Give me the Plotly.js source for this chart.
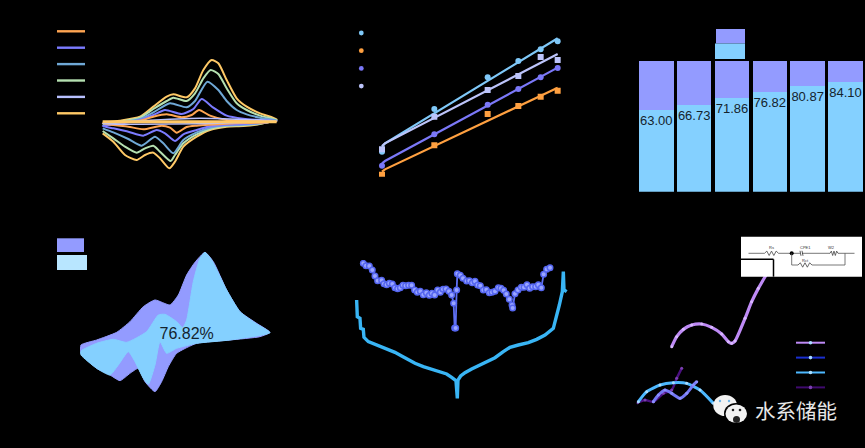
<!DOCTYPE html>
<html>
<head>
<meta charset="utf-8">
<script src="https://cdn.plot.ly/plotly-3.0.1.min.js"></script>
<style>html,body{margin:0;padding:0;background:#000}</style>
</head>
<body>
<div id="chart" style="width:865px;height:448px"></div>
<script>
'use strict'

const W = 865, H = 448;

// (a) cyclic voltammograms, one closed loop per scan rate
const cvOrangeX = [8,60,120,160,200,245,275,297,330,380,430,530,480,430,380,330,290,260,230,210,185,130,85,40,8];
const cvOrangeY = [-5,-2,3,15,22,13,20,35,18,5,3,1,-3,-4,-6,-9,-12,-16,-33,-18,-12,-23,-15,-10,-5];
const cvVioletX = [8,60,120,160,195,245,280,305,340,380,430,480,530,480,430,380,330,290,250,225,195,170,130,85,40,8];
const cvVioletY = [-13,-6,5,20,35,23,38,68,42,18,9,5,2,-4,-7,-9,-14,-25,-38,-58,-35,-25,-42,-30,-20,-13];
const cvSteelX = [8,60,120,160,210,260,285,322,355,380,410,440,480,530,480,430,380,330,290,250,220,190,165,125,85,40,8];
const cvSteelY = [-12,-3,8,28,55,43,62,120,95,62,35,22,12,4,-5,-9,-11,-18,-32,-55,-95,-65,-45,-72,-52,-32,-20];
const cvGreenX = [8,60,120,160,200,220,260,285,310,332,355,380,410,440,480,530,480,430,380,330,290,250,225,212,180,160,135,110,75,40,8];
const cvGreenY = [-8,0,12,38,62,72,62,85,130,155,143,100,55,35,18,5,-6,-11,-13,-22,-38,-65,-100,-118,-90,-72,-80,-93,-75,-50,-28];
const cvLavenderX = [8,120,300,530,300,120,8];
const cvLavenderY = [-6,2,10,2,-6,-8,-6];
const cvYellowX = [8,60,120,160,200,220,260,285,310,335,355,380,410,440,480,530,480,430,380,330,290,250,225,208,180,160,135,110,75,40,8];
const cvYellowY = [-3,3,15,45,75,82,73,100,155,185,175,125,70,45,25,7,-7,-13,-15,-25,-45,-75,-120,-140,-110,-93,-100,-115,-100,-60,-35];
const cvFlatX = [8,530];
const cvFlatY = [0,0];

// (b) log-log points and their fits
const logX = [6,163,323,415,482,533];
const logBlue = [75,203,298,347,382,406];
const logOrange = [6,94,188,212,240,258];
const logViolet = [33,127,216,263,298,326];
const logLavender = [82,180,260,302,359,350];
const fitX = [6,15,533];
const fitBlue = [90,100,415];
const fitOrange = [15,22,267];
const fitViolet = [40,47,327];
const fitLavender = [92,100,368];

// (c) capacity contribution, percent
const rateLabels = ['0.2','0.4','0.6','0.8','1.0','1.2'];
const capacitive = [63.00,66.73,71.86,76.82,80.87,84.10];
const diffusion = capacitive.map(v => 100 - v);
const capacitiveText = capacitive.map(v => v.toFixed(2));

// (d) contribution outline at one scan rate
const totalX = [3,50,110,150,190,225,270,295,320,345,375,400,440,480,530,570,540,450,350,290,265,245,225,195,175,150,120,90,50,3,3];
const totalY = [150,165,188,220,265,285,270,300,360,398,428,400,315,250,215,188,175,165,155,125,85,40,10,40,80,65,43,60,80,125,150];
const innerX = [3,50,100,140,200,235,255,290,308,320,340,360,375,395,440,480,530,570,450,350,290,260,240,225,205,190,165,145,115,90,50,3,3];
const innerY = [132,155,167,158,190,240,242,220,202,225,340,410,428,405,315,250,213,187,165,155,140,125,160,90,32,50,100,130,90,60,80,120,132];
const percentX = [320];
const percentY = [180];
const percentText = ['76.82%'];

// (e) voltage profile and diffusion coefficient
const gittX = [30,38,48,57,65,73,85,92,100,108,117,125,133,141,149,157,166,175,184,192,201,210,219,228,236,244,253,261,269,278,287,295,301,304,307,310,312,321,329,340,348,357,365,373,381,390,399,408,416,425,435,443,451,459,468,476,478,485,494,504,512,521,529,538,547,555,564,571,580,590];
const gittY = [410,403,402,390,372,358,359,349,346,350,348,337,334,337,344,343,344,344,330,323,326,316,322,314,320,315,330,323,332,333,326,315,290,216,216,330,379,374,365,357,358,352,356,345,343,330,331,322,323,326,337,335,329,318,302,285,276,319,330,338,338,346,335,340,340,346,337,377,392,397];
const voltX = [10,12,20,22,30,32,45,65,85,105,125,145,165,185,210,235,260,280,295,308,312,314,322,335,355,375,400,425,450,470,495,525,550,575,600,610,618,627,630,632,640];
const voltY = [300,250,245,215,212,188,175,167,158,150,143,132,120,110,100,93,85,78,68,58,5,60,72,82,93,103,115,127,145,158,165,172,182,195,215,250,285,325,385,330,325];

// (f) Nyquist plots
const eisPurpleX = [105,120,140,165,195,225,255,275,285,295,325,345,365,390];
const eisPurpleY = [210,240,262,275,278,268,248,225,220,227,295,345,385,428];
const eisVioletX = [50,65,85,105,130,150,170,180];
const eisVioletY = [45,65,80,70,55,70,95,105];
const eisBlueX = [5,30,70,110,150,190,230];
const eisBlueY = [45,75,95,102,100,80,40];
const eisDarkX = [2,25,50,80,105,120,135];
const eisDarkY = [42,50,45,70,80,115,145];

// pixel helpers for domains and for the legend keys
const fx = p => p / W;
const fy = p => 1 - p / H;
const dark = '#000';
const fillViolet = '#939BFF';
const fillBlue = '#84D0FF';

function cv(x, y, color, width) {
    return {x: x, y: y, xaxis: 'x', yaxis: 'y', mode: 'lines', hoverinfo: 'skip',
        line: {color: color, width: width || 2, shape: 'spline', smoothing: 0.6}};
}
function logPts(y, color, sym) {
    return {x: logX, y: y, xaxis: 'x2', yaxis: 'y2', mode: 'markers', hoverinfo: 'skip',
        marker: {color: color, size: 6, symbol: sym}};
}
function logFit(y, color) {
    return {x: fitX, y: y, xaxis: 'x2', yaxis: 'y2', mode: 'lines', hoverinfo: 'skip',
        line: {color: color, width: 2.2}};
}
function eis(x, y, color, width, msize, mcolor) {
    return {x: x, y: y, xaxis: 'x6', yaxis: 'y6', mode: 'lines+markers', hoverinfo: 'skip',
        line: {color: color, width: width, shape: 'spline', smoothing: 0.6},
        marker: {color: mcolor, size: msize}};
}

const traces = [
    cv(cvYellowX, cvYellowY, '#FFC966'),
    cv(cvGreenX, cvGreenY, '#B5E0B0'),
    cv(cvSteelX, cvSteelY, '#6FA8D6'),
    cv(cvVioletX, cvVioletY, '#7B7BFF'),
    cv(cvOrangeX, cvOrangeY, '#FFA552'),
    cv(cvLavenderX, cvLavenderY, '#B8C0FF', 1.5),
    {x: cvFlatX, y: cvFlatY, xaxis: 'x', yaxis: 'y', mode: 'lines', hoverinfo: 'skip', line: {color: '#FFC966', width: 3}},

    logFit(fitOrange, '#FFA040'), logFit(fitViolet, '#7B78F8'), logFit(fitBlue, '#7FC8F8'), logFit(fitLavender, '#BCC4FA'),
    logPts(logOrange, '#FFA040', 'square'), logPts(logViolet, '#7B78F8', 'circle'),
    logPts(logBlue, '#7FC8F8', 'circle'), logPts(logLavender, '#BCC4FA', 'square'),

    {type: 'bar', x: rateLabels, y: capacitive, xaxis: 'x3', yaxis: 'y3', marker: {color: fillBlue},
        text: capacitiveText, textposition: 'inside', insidetextanchor: 'end', textangle: 0,
        insidetextfont: {family: 'Liberation Sans', size: 13, color: '#14242e'},
        constraintext: 'none', hoverinfo: 'skip'},
    {type: 'bar', x: rateLabels, y: diffusion, xaxis: 'x3', yaxis: 'y3', marker: {color: fillViolet},
        textposition: 'none', hoverinfo: 'skip'},

    {x: totalX, y: totalY, xaxis: 'x4', yaxis: 'y4', mode: 'lines', fill: 'toself', fillcolor: fillViolet,
        line: {color: fillViolet, width: 1, shape: 'spline', smoothing: 0.5}, hoverinfo: 'skip'},
    {x: innerX, y: innerY, xaxis: 'x4', yaxis: 'y4', mode: 'lines', fill: 'toself', fillcolor: fillBlue,
        line: {color: fillBlue, width: 1, shape: 'spline', smoothing: 0.5}, hoverinfo: 'skip'},
    {x: percentX, y: percentY, xaxis: 'x4', yaxis: 'y4', mode: 'text', text: percentText, hoverinfo: 'skip',
        textfont: {family: 'Liberation Sans', size: 16, color: '#14242e'}},

    {x: voltX, y: voltY, xaxis: 'x5', yaxis: 'y5', mode: 'lines', hoverinfo: 'skip',
        line: {color: '#39B5F5', width: 3.4}},
    {x: gittX, y: gittY, xaxis: 'x5', yaxis: 'y5', mode: 'lines+markers', hoverinfo: 'skip',
        line: {color: '#5F70F5', width: 1.8},
        marker: {color: '#9AA6FF', size: 5.5, line: {color: '#5566F0', width: 1.5}}},

    eis(eisDarkX, eisDarkY, '#4B1080', 2.4, 3, '#7A3FB0'),
    eis(eisBlueX, eisBlueY, '#4DB8FF', 3, 3, '#A8DCFF'),
    eis(eisVioletX, eisVioletY, '#7478F5', 3, 3, '#8C90FF'),
    eis(eisPurpleX, eisPurpleY, '#BE8AF5', 3.2, 3, '#D8B8FF')
];

function rect(x0, y0, x1, y1, color, lineColor, lw) {
    return {type: 'rect', xref: 'paper', yref: 'paper', x0: fx(x0), x1: fx(x1), y0: fy(y0), y1: fy(y1),
        fillcolor: color, line: {color: lineColor || color, width: lw === undefined ? 0 : lw}, layer: 'above'};
}
function seg(x0, y0, x1, y1, color, lw) {
    return {type: 'line', xref: 'paper', yref: 'paper', x0: fx(x0), x1: fx(x1), y0: fy(y0), y1: fy(y1),
        line: {color: color, width: lw}, layer: 'above'};
}
function dot(cx, cy, r, color) {
    return {type: 'circle', xref: 'paper', yref: 'paper', x0: fx(cx - r), x1: fx(cx + r), y0: fy(cy - r), y1: fy(cy + r),
        fillcolor: color, line: {width: 0}, layer: 'above'};
}
function oval(x0, y0, x1, y1, color) {
    return {type: 'circle', xref: 'paper', yref: 'paper', x0: fx(x0), x1: fx(x1), y0: fy(y0), y1: fy(y1),
        fillcolor: color, line: {width: 0}, layer: 'above'};
}
// small resistor zigzag on the circuit inset
function zigzag(x0, y, len, color) {
    let d = '';
    const n = 6;
    for (let i = 0; i <= n; i++) {
        const px = fx(x0 + len * i / n);
        const off = i === 0 || i === n ? 0 : (i % 2 ? -2.2 : 2.2);
        d += (i === 0 ? 'M' : 'L') + px.toFixed(5) + ',' + fy(y + off).toFixed(5);
    }
    return {type: 'path', xref: 'paper', yref: 'paper', path: d, line: {color: color, width: 0.8}, layer: 'above'};
}

const shapes = [];
// legend keys (a)
['#FFA552','#7B7BFF','#6FA8D6','#B5E0B0','#B8C0FF','#FFC966'].forEach((c, i) => {
    shapes.push(seg(57, 31.3 + i * 16.4, 85, 31.3 + i * 16.4, c, 2.4));
});
// legend keys (b)
['#7FC8F8','#FFA040','#7B78F8','#BCC4FA'].forEach((c, i) => {
    shapes.push(dot(361.3, 33 + i * 17.7, 2.4, c));
});
// legend keys (c) and (d)
shapes.push(rect(716, 29, 745, 43.5, fillViolet));
shapes.push(rect(715, 43.5, 745, 59, fillBlue));
shapes.push(rect(57, 238.3, 84, 252, fillViolet));
shapes.push(rect(57, 255, 87, 270, '#B8E6FF'));
// legend keys (f)
['#BE8AF5','#1A2FD0','#4DB8FF','#3F0A6E'].forEach((c, i) => {
    const py = 342.7 + i * 14.9;
    shapes.push(seg(796, py, 825, py, c, 2));
    shapes.push(dot(810.5, py, 1.8, c === '#3F0A6E' ? '#7A3FB0' : '#A8DCFF'));
});
// circuit inset (f)
shapes.push(rect(741, 236.7, 862, 276.7, '#fff'));
shapes.push(seg(741, 259.3, 773.5, 259.3, '#000', 1.5));
shapes.push(seg(773.5, 259.3, 773.5, 276.7, '#000', 1.5));
shapes.push(seg(748.5, 253.3, 764.5, 253.3, '#555', 0.8));
shapes.push(zigzag(764.5, 253.3, 14, '#444'));
shapes.push(seg(778.5, 253.3, 800, 253.3, '#555', 0.8));
shapes.push(seg(802, 253.3, 830, 253.3, '#555', 0.8));
shapes.push(seg(800, 250.8, 801, 255.8, '#333', 0.8));
shapes.push(seg(802, 250.8, 803, 255.8, '#333', 0.8));
shapes.push(zigzag(830, 253.3, 8, '#444'));
shapes.push(seg(838, 253.3, 854.5, 253.3, '#555', 0.8));
shapes.push(dot(791.7, 253.3, 2, '#000'));
shapes.push(seg(791.7, 253.3, 791.7, 265, '#555', 0.8));
shapes.push(seg(791.7, 265, 798, 265, '#555', 0.8));
shapes.push(zigzag(798, 265, 14, '#444'));
shapes.push(seg(812, 265, 845, 265, '#555', 0.8));
shapes.push(seg(845, 265, 845, 253.3, '#555', 0.8));
// wechat style logo behind the watermark
shapes.push(oval(713.3, 395, 737, 416, '#f2f2f2'));
shapes.push(dot(720, 401, 1.2, '#6fb6e8'));
shapes.push(dot(729, 401, 1.2, '#6fb6e8'));
shapes.push(oval(724, 403, 748, 424, '#000'));
shapes.push(oval(725.5, 404.5, 747, 423, '#f2f2f2'));
shapes.push(dot(733, 410, 1.3, '#222'));
shapes.push(dot(740, 410, 1.3, '#222'));
shapes.push(oval(733, 416, 740, 423, '#222'));

const small = {family: 'Liberation Sans', size: 4, color: '#333'};
function inset(x, y, s) {
    return {xref: 'paper', yref: 'paper', x: fx(x), y: fy(y), text: s, showarrow: false, font: small,
        xanchor: 'center', yanchor: 'middle'};
}
const annotations = [
    inset(771, 247.7, 'Rs'), inset(805, 247.7, 'CPE1'), inset(831.5, 247.7, 'W2'), inset(805, 260, 'Rct'),
    {xref: 'paper', yref: 'paper', x: fx(753), y: fy(410), text: '水系储能', showarrow: false,
        xanchor: 'left', yanchor: 'middle',
        font: {family: 'Noto Sans CJK SC', size: 20.5, color: '#e8e8e8'}}
];

function hidden(extra) {
    return Object.assign({visible: false, fixedrange: true}, extra);
}

const layout = {
    width: W, height: H,
    margin: {l: 0, r: 0, t: 0, b: 0},
    paper_bgcolor: dark, plot_bgcolor: dark,
    showlegend: false,
    barmode: 'stack',
    bargap: 0.09,
    xaxis: hidden({domain: [fx(100), fx(280)], range: [0, 540]}),
    yaxis: hidden({domain: [fy(170), fy(40)], range: [-145, 245]}),
    xaxis2: hidden({domain: [fx(350), fx(570)], range: [-90, 570], anchor: 'y2'}),
    yaxis2: hidden({domain: [fy(176.7), fy(33.3)], range: [0, 430], anchor: 'x2'}),
    xaxis3: hidden({domain: [fx(637.4), fx(864.4)], type: 'category', range: [-0.5, 5.5], anchor: 'y3'}),
    yaxis3: hidden({domain: [fy(191.7), fy(61)], range: [1, 100], anchor: 'x3'}),
    xaxis4: hidden({domain: [fx(80), fx(273.3)], range: [0, 580], anchor: 'y4'}),
    yaxis4: hidden({domain: [fy(395), fy(248.3)], range: [0, 440], anchor: 'x4'}),
    xaxis5: hidden({domain: [fx(353.3), fx(570)], range: [0, 650], anchor: 'y5'}),
    yaxis5: hidden({domain: [fy(400), fy(260)], range: [0, 420], anchor: 'x5'}),
    xaxis6: hidden({domain: [fx(636.7), fx(865)], range: [0, 685], anchor: 'y6'}),
    yaxis6: hidden({domain: [fy(416.7), fy(236.7)], range: [0, 540], anchor: 'x6'}),
    shapes: shapes,
    annotations: annotations
};

Plotly.newPlot('chart', traces, layout, {displayModeBar: false, staticPlot: true});
</script>
</body>
</html>
